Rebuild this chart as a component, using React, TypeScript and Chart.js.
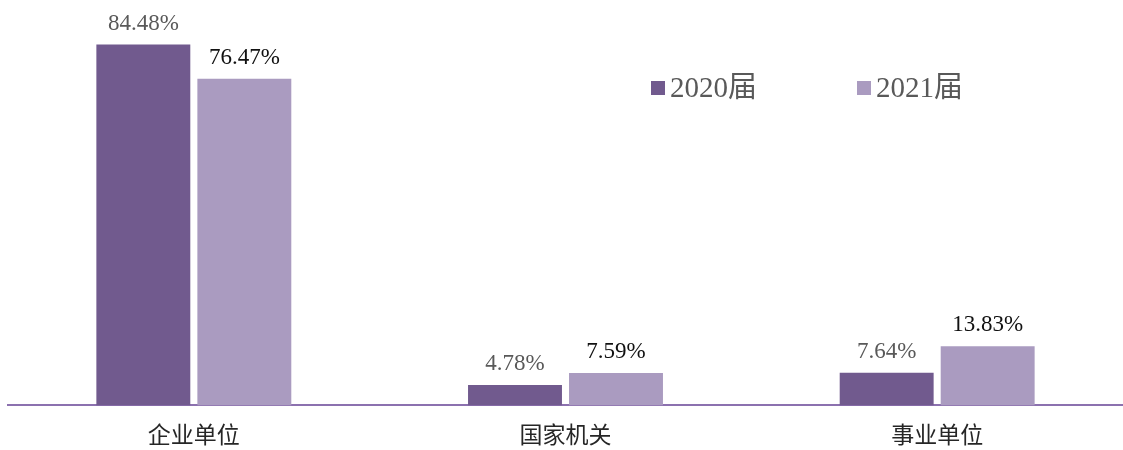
import React, { useEffect, useRef } from "react";
import { Chart, registerables } from "chart.js";

Chart.register(...registerables);

const categories = ["企业单位", "国家机关", "事业单位"];
const seriesNames = ["2020届", "2021届"];
const values2020 = [84.48, 4.78, 7.64];
const values2021 = [76.47, 7.59, 13.83];
const colors = ["#715A8E", "#AA9BC0"];
const labelColors = ["#595959", "#111111"];

const valueLabels = {
  id: "valueLabels",
  afterDatasetsDraw(chart: any) {
    const ctx = chart.ctx;
    ctx.save();
    ctx.font = "23px 'Liberation Serif', 'Times New Roman', serif";
    ctx.textAlign = "center";
    ctx.textBaseline = "alphabetic";
    chart.data.datasets.forEach((ds: any, i: number) => {
      const meta = chart.getDatasetMeta(i);
      ctx.fillStyle = labelColors[i];
      meta.data.forEach((bar: any, j: number) => {
        ctx.fillText(ds.data[j].toFixed(2) + "%", bar.x, bar.y - 15);
      });
    });
    ctx.restore();
  },
};

const customLegend = {
  id: "customLegend",
  afterDraw(chart: any) {
    const ctx = chart.ctx;
    ctx.save();
    ctx.font = "29px 'Liberation Serif', 'Noto Sans CJK SC', serif";
    ctx.textBaseline = "middle";
    ctx.textAlign = "left";
    const xs = [651, 857];
    const y = 88;
    chart.data.datasets.forEach((ds: any, i: number) => {
      ctx.fillStyle = ds.backgroundColor;
      ctx.fillRect(xs[i], y - 7, 14, 14);
      ctx.fillStyle = "#595959";
      ctx.fillText(ds.label, xs[i] + 19, y + 1);
    });
    ctx.restore();
  },
};

export default function App() {
  const ref = useRef<HTMLCanvasElement>(null);
  useEffect(() => {
    document.body.style.margin = "0";
    const chart = new Chart(ref.current!, {
      type: "bar",
      data: {
        labels: categories,
        datasets: [
          { label: seriesNames[0], data: values2020, backgroundColor: colors[0] },
          { label: seriesNames[1], data: values2021, backgroundColor: colors[1] },
        ],
      },
      options: {
        animation: false,
        responsive: false,
        maintainAspectRatio: false,
        layout: { padding: { left: 8, right: 0, top: 21, bottom: -13 } },
        datasets: { bar: { categoryPercentage: 0.5435, barPercentage: 0.93 } },
        plugins: { legend: { display: false }, tooltip: { enabled: false } },
        scales: {
          x: {
            grid: { display: false, drawTicks: false },
            border: { display: true, color: "#8C71AF", width: 2 },
            ticks: {
              padding: 15,
              color: "#262626",
              font: { size: 23, family: "'Noto Sans CJK SC', serif" },
            },
          },
          y: {
            display: false,
            min: 0,
            max: 90,
          },
        },
      },
      plugins: [valueLabels, customLegend],
    });
    return () => chart.destroy();
  }, []);
  return (
    <div style={{ width: 1123, height: 450 }}>
      <canvas ref={ref} width={1123} height={450} style={{ display: "block" }} />
    </div>
  );
}
